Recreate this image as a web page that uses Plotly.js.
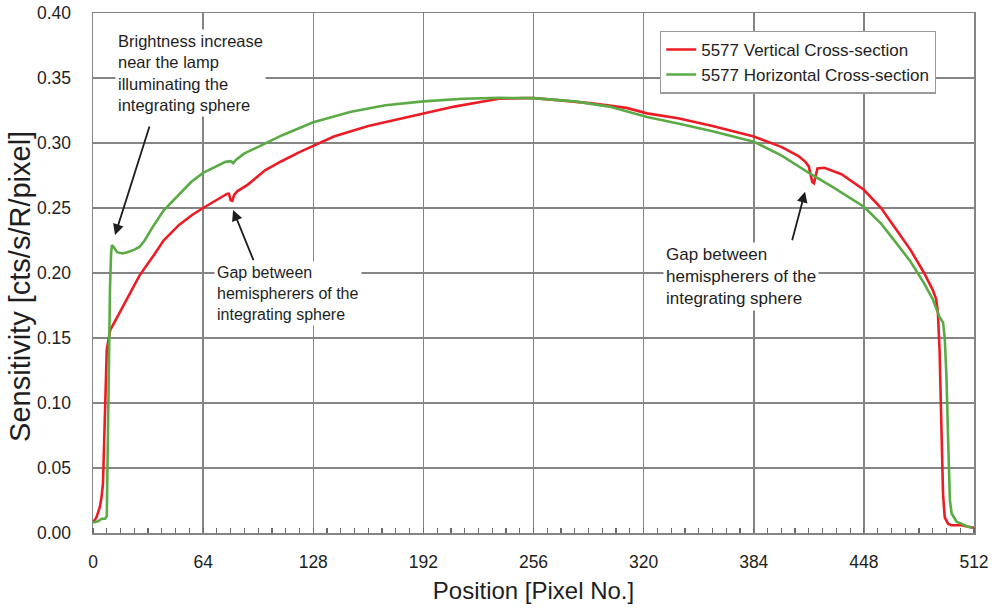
<!DOCTYPE html>
<html>
<head>
<meta charset="utf-8">
<script src="https://cdn.plot.ly/plotly-3.0.1.min.js"></script>
<style>html,body{margin:0;padding:0;background:#fff;}#chart{width:998px;height:613px;}</style>
</head>
<body>
<div id="chart"></div>
<script>
// Vertical cross-section (red)
const verticalX = [0,2,4,5,5.8,7,8,10,12,15,20,27,35,41,50,58,64,70,75,78,79,80,81,82,84,90,100,109,120,128,140,160,180,192,210,225,236,250,256,270,290,310,322,340,360,384,400,410,414,416,418,419,420,421,425,435,448,458,467,475,483,488,490,491,492,493,494,495,497,499,502,505,508,512];
const verticalY = [0.008,0.012,0.02,0.028,0.038,0.09,0.141,0.156,0.161,0.168,0.18,0.198,0.213,0.225,0.237,0.245,0.25,0.255,0.259,0.261,0.261,0.256,0.2555,0.26,0.263,0.268,0.279,0.2856,0.293,0.298,0.305,0.313,0.319,0.323,0.328,0.3315,0.334,0.3345,0.3345,0.333,0.3305,0.327,0.3228,0.319,0.313,0.305,0.297,0.29,0.2855,0.282,0.27,0.269,0.275,0.2805,0.281,0.276,0.264,0.25,0.233,0.218,0.2,0.187,0.18,0.17,0.14,0.08,0.03,0.012,0.007,0.006,0.006,0.006,0.005,0.004];

// Horizontal cross-section (green)
const horizontalX = [0,3,5,7,8,8.5,9,9.9,10.5,11,12,14,17,20,24,27,30,35,41,50,57,64,70,77,80,81.5,83,88,96,110,128,150,170,192,215,236,256,280,300,322,340,360,384,400,418,430,448,458,467,475,483,488,492,494,495,496,497,498,499,502,505,508,511];
const horizontalY = [0.008,0.009,0.011,0.011,0.013,0.06,0.14,0.19,0.215,0.2215,0.22,0.216,0.215,0.216,0.218,0.22,0.225,0.236,0.248,0.26,0.27,0.277,0.281,0.2855,0.286,0.2845,0.287,0.292,0.297,0.306,0.316,0.324,0.329,0.332,0.334,0.3347,0.3345,0.332,0.328,0.32,0.315,0.309,0.301,0.2905,0.2754,0.266,0.251,0.238,0.2228,0.209,0.192,0.18,0.166,0.162,0.15,0.12,0.07,0.025,0.015,0.0085,0.007,0.005,0.004];

const seriesNames = ['5577 Vertical Cross-section', '5577 Horizontal Cross-section'];
const xTicks = [0,64,128,192,256,320,384,448,512];
const yTicks = [0,0.05,0.10,0.15,0.20,0.25,0.30,0.35,0.40];
const yTickText = ['0.00','0.05','0.10','0.15','0.20','0.25','0.30','0.35','0.40'];

const xTitle = 'Position [Pixel No.]';
const yTitle = 'Sensitivity [cts/s/R/pixel]';
const noteLamp = 'Brightness increase<br>near the lamp<br>illuminating the<br>integrating sphere';
const noteGap = 'Gap between<br>hemispherers of the<br>integrating sphere';

const FONT = '"Liberation Sans", Arial, sans-serif';
const GRID = '#858585';
const INK = '#1e1e1e';

const traces = [
  {x: verticalX, y: verticalY, name: seriesNames[0], mode: 'lines', line: {color: '#ec1c24', width: 2.6}},
  {x: horizontalX, y: horizontalY, name: seriesNames[1], mode: 'lines', line: {color: '#5aab45', width: 2.6}}
];

function arrow(x, y, ax, ay) {
  return {x: x, y: y, ax: ax, ay: ay, xref: 'x', yref: 'y', axref: 'x', ayref: 'y',
    text: '', showarrow: true, arrowhead: 2, arrowsize: 1.2, arrowwidth: 1.8, arrowcolor: INK, standoff: 0, startstandoff: 0};
}
function note(text, x, y, size) {
  return {x: x, y: y, xref: 'x', yref: 'y', xanchor: 'left', yanchor: 'top', align: 'left',
    text: text, showarrow: false, bgcolor: '#ffffff', borderpad: 2,
    font: {family: FONT, size: size, color: INK}};
}

const layout = {
  width: 998, height: 613,
  margin: {l: 93, r: 24, t: 13, b: 80},
  paper_bgcolor: '#ffffff', plot_bgcolor: '#ffffff',
  font: {family: FONT, color: INK},
  showlegend: true,
  legend: {x: 0.6436, y: 0.966, xanchor: 'left', yanchor: 'top',
    bgcolor: '#ffffff', bordercolor: '#9a9a9a', borderwidth: 1.2,
    font: {family: FONT, size: 17, color: INK}, tracegroupgap: 0},
  xaxis: {
    range: [0, 512], tickvals: xTicks, ticktext: xTicks.map(String),
    showgrid: true, gridcolor: GRID, gridwidth: 1.5,
    showline: true, linecolor: GRID, linewidth: 1.5, mirror: true,
    ticks: 'outside', ticklen: 12, tickcolor: 'rgba(0,0,0,0)',
    tickfont: {family: FONT, size: 17.5, color: INK},
    zeroline: false,
    minor: {dtick: 8, tick0: 0, ticks: 'inside', ticklen: 5, tickcolor: '#6a6a6a', tickwidth: 1.2, showgrid: false},
    title: {text: xTitle, font: {family: FONT, size: 24, color: INK}, standoff: 11}
  },
  yaxis: {
    range: [0, 0.40], tickvals: yTicks, ticktext: yTickText,
    showgrid: true, gridcolor: GRID, gridwidth: 1.5,
    showline: true, linecolor: GRID, linewidth: 1.5, mirror: true,
    ticks: 'outside', ticklen: 17, tickcolor: 'rgba(0,0,0,0)',
    tickfont: {family: FONT, size: 17.5, color: INK},
    zeroline: false
  },
  annotations: [
    {text: yTitle, xref: 'paper', yref: 'paper', x: -0.083, y: 0.475, xanchor: 'center', yanchor: 'middle',
      textangle: -90, showarrow: false, font: {family: FONT, size: 29, color: INK}},
    note(noteLamp, 12.8, 0.388, 16.5),
    note(noteGap, 70.6, 0.209, 16),
    note(noteGap, 331.0, 0.2235, 17),
    arrow(12.8, 0.2292, 33.1, 0.3138),
    arrow(81.4, 0.2485, 93.6, 0.2087),
    arrow(413.8, 0.2625, 406.1, 0.2241)
  ]
};

Plotly.newPlot('chart', traces, layout, {displayModeBar: false, staticPlot: true});
</script>
</body>
</html>
